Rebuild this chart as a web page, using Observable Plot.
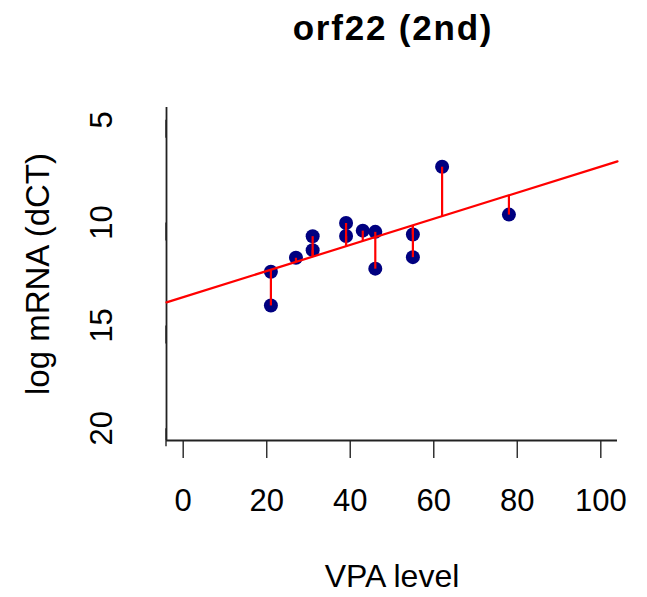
<!DOCTYPE html>
<html>
<head>
<meta charset="utf-8">
<script src="https://cdn.jsdelivr.net/npm/d3@7"></script>
<script src="https://cdn.jsdelivr.net/npm/@observablehq/plot@0.6"></script>
<style>
  html, body { margin: 0; padding: 0; background: #fff; }
  #chart svg { display: block; }
</style>
</head>
<body>
<div id="chart"></div>
<script>
// Data
const vpaLevel = [21, 21, 27, 31, 31, 39, 39, 43, 46, 46, 55, 55, 62, 78];
const dCT      = [14.03, 12.39, 11.71, 10.66, 11.34, 10.02, 10.65, 10.39, 10.45, 12.24, 10.58, 11.68, 7.28, 9.61];
const xTicks = [0, 20, 40, 60, 80, 100];
const yTicks = [5, 10, 15, 20];
const xDomain = [-4, 104];
const yDomain = [4.4, 20.6];
const titleText = "orf22 (2nd)";
const xTitle = "VPA level";
const yTitle = "log mRNA (dCT)";

const points = vpaLevel.map((x, i) => ({x, y: dCT[i]}));

// least-squares fit (abline(lm(y ~ x)))
const mx = d3.mean(vpaLevel), my = d3.mean(dCT);
const slope = d3.sum(points, p => (p.x - mx) * (p.y - my)) / d3.sum(points, p => (p.x - mx) ** 2);
const intercept = my - slope * mx;
const fit = x => intercept + slope * x;
const fitLine = xDomain.map(x => ({x, y: fit(x)}));
const residuals = points.map(p => ({x: p.x, y1: p.y, y2: fit(p.x)}));

const font = "'Liberation Sans', Arial, Helvetica, sans-serif";

const chart = Plot.plot({
  width: 647,
  height: 597,
  marginLeft: 166,
  marginRight: 30,
  marginTop: 107,
  marginBottom: 157,
  style: {fontFamily: font, fontSize: "31px", color: "black", background: "white", overflow: "visible"},
  x: {domain: xDomain, axis: null},
  y: {domain: yDomain, reverse: true, axis: null},
  marks: [
    Plot.axisX({ticks: xTicks, tickSize: 18, tickPadding: 30, fontSize: 31, label: null, stroke: "#333", strokeWidth: 1.5}),
    Plot.axisY({ticks: yTicks, tickSize: 18, tickPadding: 46, fontSize: 31, label: null, rotate: -90, textAnchor: "middle", stroke: "#333", strokeWidth: 1.5}),
    Plot.ruleX([xDomain[0]], {stroke: "#222", strokeWidth: 1.8}),
    Plot.ruleY([yDomain[1]], {stroke: "#222", strokeWidth: 1.8}),
    Plot.dot(points, {x: "x", y: "y", r: 7, fill: "#000080", stroke: "none"}),
    Plot.line(fitLine, {x: "x", y: "y", stroke: "#ff0000", strokeWidth: 2.2}),
    Plot.link(residuals, {x1: "x", x2: "x", y1: "y1", y2: "y2", stroke: "#ff0000", strokeWidth: 2.2}),
    Plot.text([titleText], {frameAnchor: "top", dx: 1, dy: -67.7, lineAnchor: "bottom", fontWeight: "bold", fontSize: 35, fill: "black"}),
    Plot.text([xTitle], {frameAnchor: "bottom", dy: 146.7, lineAnchor: "bottom", fontSize: 32, fill: "black"}),
    Plot.text([yTitle], {frameAnchor: "left", dx: -118, rotate: -90, textAnchor: "middle", lineAnchor: "bottom", fontSize: 33, fill: "black"})
  ]
});
d3.select(chart).selectAll("text")
  .filter(function() { return this.textContent === titleText; })
  .style("letter-spacing", "1.8px");
document.getElementById("chart").appendChild(chart);
</script>
</body>
</html>
